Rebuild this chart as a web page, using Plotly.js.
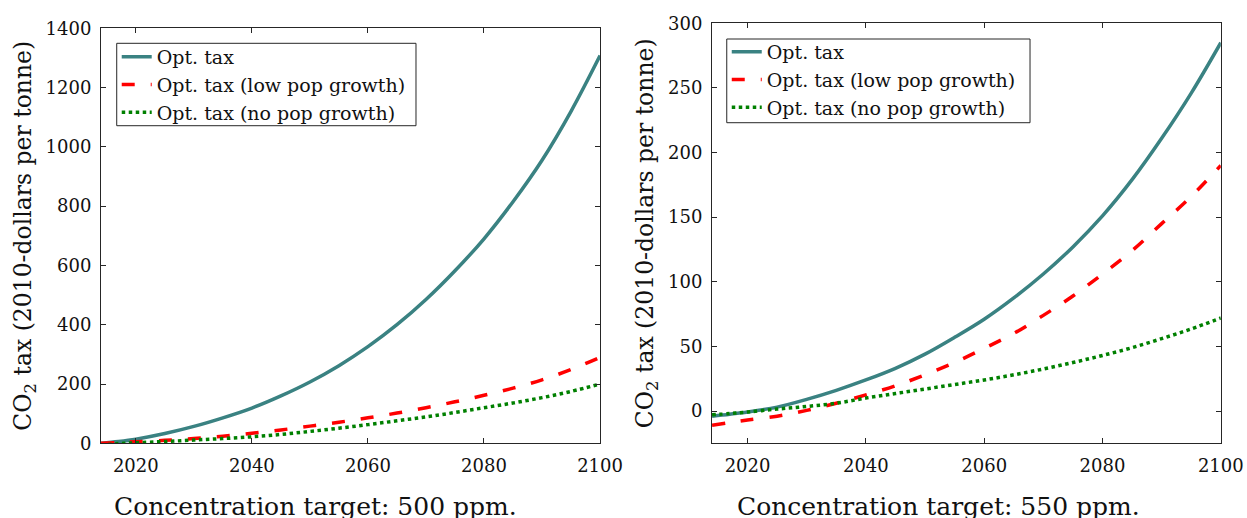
<!DOCTYPE html>
<html>
<head>
<meta charset="utf-8">
<script src="https://cdn.plot.ly/plotly-3.0.1.min.js"></script>
<style>html,body{margin:0;padding:0;background:#fff;}#chart{width:1247px;height:518px;}</style>
</head>
<body>
<div id="chart"></div>
<script>
// ---- data ----
const years = [2014, 2017, 2020, 2025, 2030, 2035, 2040, 2045, 2050, 2055, 2060, 2065, 2070, 2075, 2080, 2085, 2090, 2095, 2100];
const seriesNames = ["Opt. tax", "Opt. tax (low pop growth)", "Opt. tax (no pop growth)"];

// Panel 1: concentration target 500 ppm
const tax500 =      [0, 6, 14, 33, 57, 86, 119, 160, 207, 262, 326, 400, 485, 582, 690, 815, 955, 1120, 1308];
const tax500Low =   [0, 2.5, 5, 10, 16, 24, 34, 45, 58, 71, 86, 102, 120, 140, 162, 186, 214, 249, 290];
const tax500NoPop = [-6, -1, 2, 6, 11, 16, 22, 30, 40, 51, 63, 76, 89, 104, 120, 136, 154, 175, 200];

// Panel 2: concentration target 550 ppm
const tax550 =      [-4, -2.5, -0.8, 3, 9, 16, 24, 33, 44, 57, 71, 87.5, 106, 127, 151, 179, 211, 246, 285];
const tax550Low =   [-11, -9, -7, -4, 0.5, 6, 12.5, 19.5, 28, 37.5, 48.5, 60, 74, 89, 106, 124, 145, 166, 190];
const tax550NoPop = [-3, -2, -0.8, 1.5, 3.5, 6, 10, 13.5, 17, 20.5, 24, 28, 32.5, 37.5, 43, 49, 56, 63.5, 72];

const xTicks = [2020, 2040, 2060, 2080, 2100];
const panelTitles = ["Concentration target: 500 ppm.", "Concentration target: 550 ppm."];
const yTitle = "CO<sub>2</sub> tax (2010-dollars per tonne)";

// ---- styles ----
const FONT = "DejaVu Serif";
const AX = "#262626";
const styles = [
  {color: "rgb(58,130,130)", width: 3.5, dash: "solid"},
  {color: "rgb(255,0,0)", width: 3.5, dash: "13px,16px"},
  {color: "rgb(0,128,0)", width: 3.5, dash: "3.5px,3.5px"}
];

function mk(y, i, xa, ya, leg) {
  return {
    x: years, y: y, type: "scatter", mode: "lines",
    name: seriesNames[i], xaxis: xa, yaxis: ya, legend: leg,
    line: Object.assign({shape: "spline", smoothing: 1}, styles[i]),
    hoverinfo: "skip"
  };
}

const data = [
  mk(tax500, 0, "x", "y", "legend"),
  mk(tax500Low, 1, "x", "y", "legend"),
  mk(tax500NoPop, 2, "x", "y", "legend"),
  mk(tax550, 0, "x2", "y2", "legend2"),
  mk(tax550Low, 1, "x2", "y2", "legend2"),
  mk(tax550NoPop, 2, "x2", "y2", "legend2")
];

function xax(domain, anchor) {
  return {
    domain: domain, anchor: anchor, range: [2014, 2100],
    tickvals: xTicks, ticktext: xTicks.map(String),
    ticks: "inside", ticklen: 5, tickwidth: 1, tickcolor: AX,
    showline: true, linecolor: AX, linewidth: 1, mirror: "ticks",
    showgrid: false, zeroline: false,
    tickfont: {family: FONT, size: 18, color: "#111"},
    ticklabelstandoff: 6
  };
}
function yax(domain, anchor, range, dtick) {
  return {
    domain: domain, anchor: anchor, range: range, dtick: dtick, tick0: 0,
    ticks: "inside", ticklen: 5, tickwidth: 1, tickcolor: AX,
    showline: true, linecolor: AX, linewidth: 1, mirror: "ticks",
    showgrid: false, zeroline: false,
    tickfont: {family: FONT, size: 18, color: "#111"},
    ticklabelstandoff: 5,
    title: {text: yTitle, font: {family: FONT, size: 23.5, color: "#111"}, standoff: 7}
  };
}

const legendBase = {
  xanchor: "left", yanchor: "top",
  bgcolor: "rgba(0,0,0,0)", borderwidth: 0,
  font: {family: FONT, size: 19, color: "#111"},
  tracegroupgap: 0
};

function box(x0, x1, y0, y1) {
  return {type: "rect", xref: "paper", yref: "paper", x0: x0, x1: x1, y0: y0, y1: y1,
          fillcolor: "#fff", line: {color: AX, width: 1}, layer: "above"};
}

const layout = {
  width: 1247, height: 518,
  margin: {l: 0, r: 0, t: 0, b: 0},
  paper_bgcolor: "#fff", plot_bgcolor: "#fff",
  showlegend: true,
  xaxis: xax([0.081, 0.4812], "y"),
  yaxis: yax([0.1442, 0.9454], "x", [0, 1400], 200),
  xaxis2: xax([0.571, 0.979], "y2"),
  yaxis2: yax([0.1442, 0.955], "x2", [-25, 300], 50),
  legend: Object.assign({x: 0.0936, y: 0.9266}, legendBase),
  legend2: Object.assign({x: 0.5828, y: 0.9363}, legendBase),
  shapes: [
    box(0.0936, 0.3336, 0.7573, 0.9164),
    box(0.5828, 0.8260, 0.7631, 0.9247)
  ],
  annotations: [
    {text: panelTitles[0], xref: "paper", yref: "paper", x: 0.2534, y: 0.022,
     xanchor: "center", yanchor: "middle", showarrow: false,
     font: {family: FONT, size: 25, color: "#111"}},
    {text: panelTitles[1], xref: "paper", yref: "paper", x: 0.7527, y: 0.022,
     xanchor: "center", yanchor: "middle", showarrow: false,
     font: {family: FONT, size: 25, color: "#111"}}
  ]
};

Plotly.newPlot("chart", data, layout, {displayModeBar: false, staticPlot: true});
</script>
</body>
</html>
